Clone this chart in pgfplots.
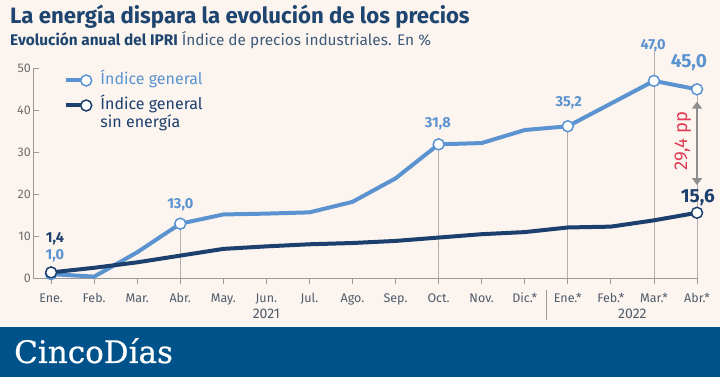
\documentclass[border=0pt]{standalone}
\usepackage{pgfplots}
\pgfplotsset{compat=1.18}
\usepackage{fontspec}
\setmainfont{Fira Sans}
\newfontfamily\dvserif{DejaVu Serif}[FakeBold=0.6]
\usetikzlibrary{arrows.meta}
\definecolor{bgc}{HTML}{FCF5EF}
\definecolor{banner}{HTML}{00528A}
\definecolor{titc}{HTML}{1E4570}
\definecolor{subc}{HTML}{3E5A7A}
\definecolor{lb}{HTML}{5B93D0}
\definecolor{db}{HTML}{1C3F6E}
\definecolor{redc}{HTML}{E03C55}
\definecolor{dropc}{HTML}{B5AEAB}
\definecolor{arrc}{HTML}{8E8E8E}
\definecolor{axc}{HTML}{9A9A9A}
\definecolor{tickc}{HTML}{4F5B6B}
\definecolor{ytc}{HTML}{6E6E6E}
\begin{document}
\begin{tikzpicture}[x=1pt,y=1pt]
\fill[bgc] (0,0) rectangle (720,377);
\fill[banner] (0,0) rectangle (720,50.3);
\node[anchor=base west, inner sep=0, text=white, font=\dvserif\fontsize{31}{31}\selectfont] at (14,14) {CincoDías};
\node[anchor=base west, inner sep=0, text=titc, font=\bfseries\fontsize{22.2}{24}\selectfont] at (10,353) {La energía dispara la evolución de los precios};
\node[anchor=base west, inner sep=0, font=\fontsize{15.4}{17}\selectfont] at (10,331) {\textcolor{titc}{\bfseries Evolución anual del IPRI} \textcolor{subc}{Índice de precios industriales. En \%}};
\begin{axis}[
  at={(33pt,98.7pt)}, anchor=south west, scale only axis,
  width=664pt, height=210pt,
  xmin=-0.42, xmax=15, ymin=0, ymax=50, clip=false,
  axis x line=bottom, axis y line=left,
  axis line style={-, draw=axc, line width=0.8pt},
  xtick={0,...,15},
  xticklabels={Ene.,Feb.,Mar.,Abr.,May.,Jun.,Jul.,Ago.,Sep.,Oct.,Nov.,Dic.*,Ene.*,Feb.*,Mar.*,Abr.*},
  ytick={0,10,...,50},
  xtick align=outside, ytick align=inside,
  major tick length=6pt,
  tick style={draw=axc, line width=0.8pt},
  xticklabel style={font=\fontsize{12.5}{12.5}\selectfont, text=tickc, anchor=base, yshift=-18pt},
  yticklabel style={font=\fontsize{12.5}{12.5}\selectfont, text=ytc, anchor=east, inner sep=0pt, xshift=-2pt},
  /pgf/number format/assume math mode=true,
  legend style={at={(0.0467,0.9857)}, anchor=north west, draw=none, fill=none,
    font=\fontsize{16}{18}\selectfont, row sep=7pt, column sep=7pt,
    inner sep=0pt, nodes={inner sep=1pt, text height=12pt, text depth=4pt}},
  legend cell align=left,
]
\addplot[ycomb, draw=dropc, line width=0.8pt, forget plot] coordinates {(3,13)(9,31.9)(12,36.2)(14,53.9)(15,45)};
\addplot[lb, line width=4pt, line join=round, forget plot] coordinates {
(0,1.0)(1,0.4)(2,6.2)(3,13.0)(4,15.2)(5,15.4)(6,15.7)(7,18.2)(8,23.8)(9,31.9)(10,32.2)(11,35.3)(12,36.2)(13,41.6)(14,47.0)(15,45.0)};
\addplot[db, line width=4pt, line join=round, forget plot] coordinates {
(0,1.4)(1,2.5)(2,3.8)(3,5.4)(4,7.0)(5,7.6)(6,8.1)(7,8.4)(8,8.9)(9,9.7)(10,10.5)(11,11.0)(12,12.1)(13,12.3)(14,13.8)(15,15.6)};
\addplot[only marks, mark=*, mark size=5.5pt, mark options={fill=white, draw=lb, line width=1.5pt}, forget plot] coordinates {(0,1.0)(3,13)(9,31.9)(12,36.2)(14,47)(15,45)};
\addplot[only marks, mark=*, mark size=5.5pt, mark options={fill=white, draw=db, line width=1.5pt}, forget plot] coordinates {(0,1.4)(15,15.6)};
\draw[{Triangle[width=10pt,length=7pt]}-{Triangle[width=10pt,length=7pt]}, arrc, line width=1.5pt] (axis cs:15,42.05) -- (axis cs:15,22.2);
\node[rotate=90, text=redc, font=\fontsize{18.5}{18.5}\selectfont] at (axis cs:14.67,32.7) {29,4 pp};
\node[font=\bfseries\fontsize{14.5}{14.5}\selectfont, text=db] at (axis cs:0.09,9.4) {1,4};
\node[font=\bfseries\fontsize{14.5}{14.5}\selectfont, text=lb] at (axis cs:0.09,5.4) {1,0};
\node[font=\bfseries\fontsize{14.5}{14.5}\selectfont, text=lb] at (axis cs:3,17.45) {13,0};
\node[font=\bfseries\fontsize{14.5}{14.5}\selectfont, text=lb] at (axis cs:8.98,36.7) {31,8};
\node[font=\bfseries\fontsize{14.5}{14.5}\selectfont, text=lb] at (axis cs:12.02,41.7) {35,2};
\node[font=\bfseries\fontsize{14.5}{14.5}\selectfont, text=lb] at (axis cs:13.98,55.3) {47,0};
\node[font=\bfseries\fontsize{19}{19}\selectfont, text=lb] at (axis cs:14.81,51.3) {45,0};
\node[font=\bfseries\fontsize{19}{19}\selectfont, text=db] at (axis cs:15.02,19.1) {15,6};
\node[font=\fontsize{14}{14}\selectfont, text=tickc] at (axis cs:5,-8.5) {2021};
\node[font=\fontsize{14}{14}\selectfont, text=tickc] at (axis cs:13.5,-8.5) {2022};
\draw[axc, line width=0.8pt] (axis cs:11.5,-2.8) -- (axis cs:11.5,-9.9);
\addlegendimage{lb, line width=4pt, legend image code/.code={\draw (0pt,0pt) -- (20pt,0pt); \draw[fill=white, line width=1.5pt] (20pt,0pt) circle (5.5pt);}}
\addlegendentry[text=lb]{Índice general}
\addlegendimage{db, line width=4pt, legend image code/.code={\draw (0pt,0pt) -- (20pt,0pt); \draw[fill=white, line width=1.5pt] (20pt,0pt) circle (5.5pt);}}
\addlegendentry[text=db]{\begin{tabular}[t]{@{}l@{}}Índice general\\sin energía\end{tabular}}
\end{axis}
\end{tikzpicture}
\end{document}
